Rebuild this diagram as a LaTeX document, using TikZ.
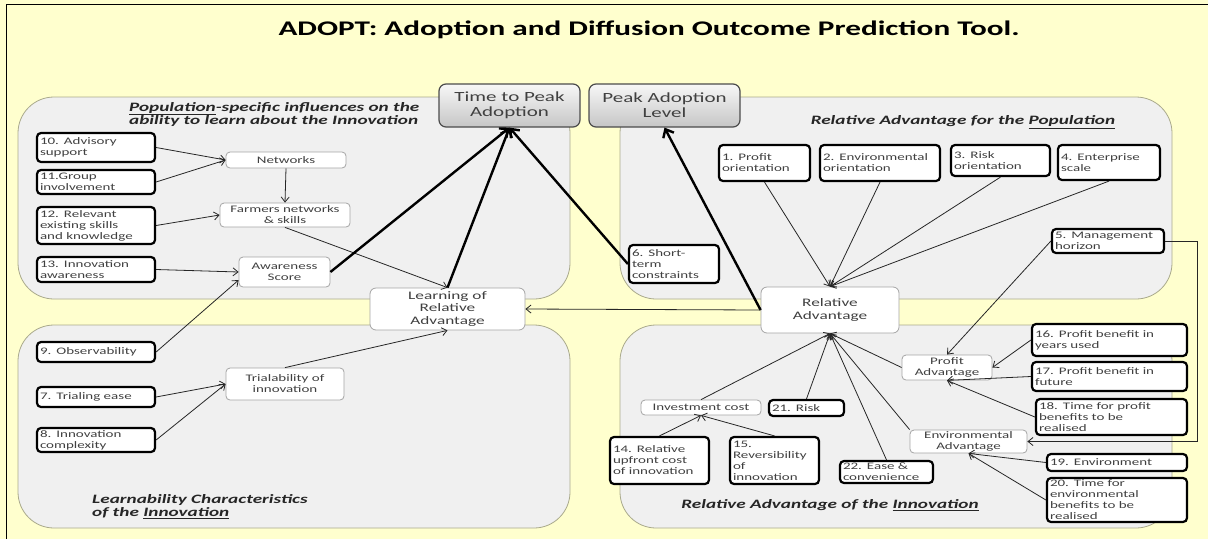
\documentclass[tikz,border=0pt]{standalone}
\usepackage{fontspec}
\setmainfont{Carlito}[FakeStretch=1.5]
\usetikzlibrary{arrows.meta,positioning}
\definecolor{bgyellow}{RGB}{255,255,206}
\definecolor{panelfill}{RGB}{240,240,240}
\definecolor{paneledge}{RGB}{170,170,140}
\definecolor{boxtext}{RGB}{64,64,64}
\definecolor{thinedge}{RGB}{165,165,165}
\newcommand{\nbfont}{\fontsize{10}{11}\selectfont}
\newcommand{\lrnfont}{\fontsize{11.5}{12.5}\selectfont}
\newcommand{\outfont}{\fontsize{14}{15}\selectfont}
\newcommand{\ptfont}{\fontsize{12.8}{13.5}\selectfont\bfseries\itshape}
\newcommand{\ttlfont}{\fontsize{20.8}{24}\selectfont\bfseries}
\tikzset{
    panel/.style={draw=paneledge, fill=panelfill, line width=0.8pt, rounded corners=36pt},
    numbox/.style={draw=black, line width=2.2pt, rounded corners=4pt, fill=white, text=boxtext,
        font=\nbfont, align=left, inner xsep=3pt, inner ysep=1pt},
    nb/.style 2 args={numbox, minimum width=#1, text width=#1-6pt, minimum height=#2},
    midbox/.style={draw=thinedge, line width=0.8pt, rounded corners=4pt, fill=white, text=boxtext,
        font=\nbfont, align=center, inner sep=1pt},
    mb/.style 2 args={midbox, minimum width=#1, minimum height=#2},
    learnbox/.style={midbox, font=\lrnfont, rounded corners=6pt},
    outbox/.style={draw=black!70, line width=1.2pt, rounded corners=7pt, top color=gray!6,
        bottom color=gray!45, text=black!75, font=\outfont, align=center},
    ptitle/.style={font=\ptfont, align=left, inner sep=0pt, text=black!85},
    link/.style={draw=black!85, line width=0.8pt, -{Straight Barb[length=5pt,width=8pt]}},
    biglink/.style={line width=2.4pt, -{Straight Barb[length=7pt,width=12pt]}}
}
\begin{document}
\begin{tikzpicture}[x=1pt,y=-1pt]
\useasboundingbox (0,0) rectangle (1208,539);
\fill[bgyellow] (0,0) rectangle (1208,539);
\draw[line width=1pt] (6,539) -- (6,4) -- (1208,4);

\node[font=\ttlfont] (title) at (649,30) {ADOPT: Adoption and Diffusion Outcome Prediction Tool.};

\draw[panel] (18,97) rectangle (570,299);
\draw[panel] (620,97) rectangle (1172,299);
\draw[panel] (18,325) rectangle (570,528);
\draw[panel] (620,325) rectangle (1172,528);

\node[ptitle, anchor=north west] (poptitle) at (129,102) {\underline{Population}-specific influences on the\\ability to learn about the Innovation};
\node[ptitle] (radvpop) at (963,122) {Relative Advantage for the \underline{Population}};
\node[ptitle, anchor=north west] (learntitle) at (92,494) {Learnability Characteristics\\of the \underline{Innovation}};
\node[ptitle] (radvinn) at (830,505) {Relative Advantage of the \underline{Innovation}};

\node[nb={118pt}{29pt}] (advisory) at (96,147.5) {10. Advisory\\support};
\node[nb={118pt}{24pt}] (group) at (96,182) {11.Group\\involvement};
\node[nb={118pt}{37pt}] (skills) at (96,225.5) {12. Relevant\\existing skills\\and knowledge};
\node[nb={118pt}{25pt}] (awareness) at (96,269.5) {13. Innovation\\awareness};
\node[mb={120pt}{16pt}] (networks) at (286,160) {Networks};
\node[mb={130pt}{24pt}] (farmers) at (285,215) {Farmers networks\\\& skills};
\node[mb={91pt}{30pt}] (score) at (284.5,272) {Awareness\\Score};
\node[learnbox, minimum width=155pt, minimum height=42pt] (learning) at (447.5,309) {Learning of\\Relative\\Advantage};

\node[nb={118pt}{20pt}] (observ) at (96,352) {9. Observability};
\node[nb={118pt}{20pt}] (trialing) at (96,397) {7. Trialing ease};
\node[nb={118pt}{24pt}] (complex) at (96,440) {8. Innovation\\complexity};
\node[mb={118pt}{32pt}] (trialab) at (285,384) {Trialability of\\innovation};

\node[outbox, minimum width=141pt, minimum height=43pt] (peaktime) at (509.5,105.5) {Time to Peak\\Adoption};
\node[outbox, minimum width=151pt, minimum height=43pt] (peaklevel) at (664.5,105.5) {Peak Adoption\\Level};

\node[nb={91pt}{36pt}] (profitor) at (764.5,163) {1. Profit\\orientation};
\node[nb={120pt}{36pt}] (envor) at (880,163) {2. Environmental\\orientation};
\node[nb={99pt}{31pt}] (riskor) at (1000.5,160.5) {3. Risk\\orientation};
\node[nb={102pt}{35pt}] (scale) at (1109,162.5) {4. Enterprise\\scale};
\node[nb={112pt}{24pt}] (horizon) at (1108,241) {5. Management\\horizon};
\node[nb={90pt}{38pt}] (shortterm) at (674,264) {6. Short-\\term\\constraints};
\node[learnbox, minimum width=138pt, minimum height=46pt] (reladv) at (830,310) {Relative\\Advantage};

\node[mb={120pt}{15pt}] (invest) at (701,407.5) {Investment cost};
\node[nb={75pt}{16pt}] (risk) at (806.5,408) {21. Risk};
\node[nb={99pt}{47pt}] (upfront) at (659.5,460.5) {14. Relative\\upfront cost\\of innovation};
\node[nb={89pt}{47pt}] (revers) at (774.5,460.5) {15.\\Reversibility\\of\\innovation};
\node[nb={93pt}{22pt}] (ease) at (886.5,472) {22. Ease \&\\convenience};
\node[mb={90pt}{25pt}] (profadv) at (947,367.5) {Profit\\Advantage};
\node[mb={117pt}{23pt}] (envadv) at (968.5,441.5) {Environmental\\Advantage};
\node[nb={155pt}{32pt}] (pbyears) at (1109.5,340) {16. Profit benefit in\\years used};
\node[nb={155pt}{29pt}] (pbfuture) at (1109.5,376.5) {17. Profit benefit in\\future};
\node[nb={151pt}{36pt}] (ptime) at (1111.5,417) {18. Time for profit\\benefits to be\\realised};
\node[nb={140pt}{17pt}] (environ) at (1117,462.5) {19. Environment};
\node[nb={140pt}{44pt}] (etime) at (1117,500) {20. Time for\\environmental\\benefits to be\\realised};

\draw[link] (advisory.east) -- (networks.west);
\draw[link] (group.east) -- (networks.west);
\draw[link] (networks.south) -- (farmers.north);
\draw[link] (skills.east) -- (farmers.west);
\draw[link] (farmers.south) -- (learning.north);
\draw[link] (awareness.east) -- (score.west);
\draw[link] (observ.east) -- (score.190);
\draw[link] (trialing.east) -- (trialab.west);
\draw[link] (complex.east) -- (trialab.west);
\draw[link] (trialab.north) -- (learning.south);
\draw[biglink] (score.east) -- (peaktime.south);
\draw[biglink] (learning.north) -- (peaktime.south);
\draw[biglink] (shortterm.west) -- (peaktime.south);
\draw[biglink] (reladv.west) -- (peaklevel.south);
\draw[link] (reladv.west) -- (learning.east);
\foreach \n in {profitor,envor,riskor,scale}
    \draw[link] (\n.south) -- (reladv.north);
\draw[link] (horizon.west) -- (profadv.north);
\draw[link] (horizon.east) -- ++(32,0) |- (envadv.east);
\foreach \n in {invest.north,risk.north,ease.north,envadv.north west,profadv.west}
    \draw[link] (\n) -- (reladv.south);
\draw[link] (upfront.north) -- (invest.south);
\draw[link] (revers.north) -- (invest.south);
\draw[link] (pbyears.west) -- (profadv.east);
\draw[link] (pbfuture.west) -- (profadv.south);
\draw[link] (ptime.west) -- (profadv.south);
\draw[link] (environ.west) -- (envadv.south);
\draw[link] (etime.west) -- (envadv.south);
\end{tikzpicture}
\end{document}
